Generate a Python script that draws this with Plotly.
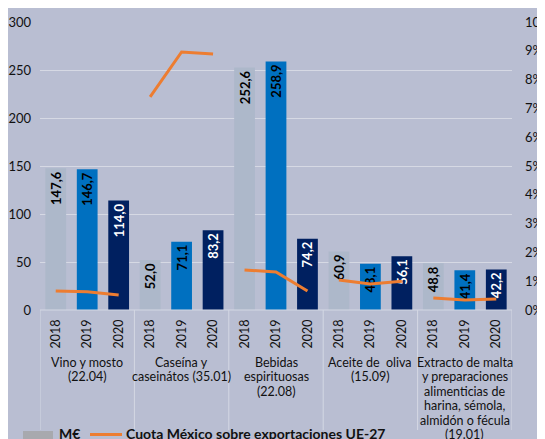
import plotly.graph_objects as go

categories = [
    ["Vino y mosto", "(22.04)"],
    ["Caseína y", "caseinátos (35.01)"],
    ["Bebidas", "espirituosas", "(22.08)"],
    ["Aceite de  oliva", "(15.09)"],
    ["Extracto de malta", "y preparaciones", "alimenticias de", "harina, sémola,", "almidón o fécula", "(19.01)"],
]
years = ["2018", "2019", "2020"]
values_2018 = [147.6, 52.0, 252.6, 60.9, 48.8]
values_2019 = [146.7, 71.1, 258.9, 48.1, 41.4]
values_2020 = [114.0, 83.2, 74.2, 56.1, 42.2]
cuota = [  # % share per category, years 2018-2020
    [0.66, 0.63, 0.52],
    [7.4, 8.96, 8.89],
    [1.39, 1.32, 0.66],
    [1.04, 0.90, 1.00],
    [0.42, 0.35, 0.38],
]
left_ticks = [0, 50, 100, 150, 200, 250, 300]
legend_bar_name = "M€"
legend_line_name = "Cuota México sobre exportaciones UE-27"

bg = "#B9BED2"
font_family = "Lato, 'Open Sans', sans-serif"
colors = ["#ADB8CA", "#0070C0", "#002060"]
label_colors = ["black", "black", "white"]
n = len(categories)

# the page body has an 8px margin, so the figure is sized to fill the window exactly
W, H = 537, 431
L, R, T, B = 32, 33, 14, 129
PW, PH = W - L - R, H - T - B
PLOT_LEFT_PAGE, PLOT_BOTTOM_PAGE = 40, 310

def px_x(px):
    return (px - PLOT_LEFT_PAGE) / PW

def px_y(py):
    return (PLOT_BOTTOM_PAGE - py) / PH

def fmt(v):
    return f"{v:.1f}".replace(".", ",")

fig = go.Figure()
series = [values_2018, values_2019, values_2020]
for yi, vals in enumerate(series):
    xs = [ci * 3 + yi for ci in range(n)]
    fig.add_trace(go.Bar(
        x=xs, y=vals, width=0.66,
        marker=dict(color=colors[yi], line=dict(width=0)),
        text=[fmt(v) for v in vals], textposition="inside",
        insidetextanchor="end", textangle=-90,
        textfont=dict(family=font_family, size=13, color=label_colors[yi], weight="bold"),
        showlegend=False, cliponaxis=False,
    ))

lx, ly = [], []
for ci in range(n):
    for yi in range(3):
        lx.append(ci * 3 + yi)
        ly.append(cuota[ci][yi] / 100)
    lx.append(None)
    ly.append(None)
fig.add_trace(go.Scatter(
    x=lx, y=ly, yaxis="y2", mode="lines", connectgaps=False,
    line=dict(color="#ED7D31", width=3),
    name=legend_line_name, showlegend=False,
))

divider = "#D4D8E4"
shapes = []
for b in range(n + 1):
    shapes.append(dict(type="line", xref="x", yref="paper", x0=b * 3 - 0.5, x1=b * 3 - 0.5,
                       y0=0, y1=px_y(430), line=dict(color=divider, width=1)))
shapes.append(dict(type="line", xref="paper", yref="paper", x0=0, x1=1, y0=0, y1=0,
                   line=dict(color=divider, width=1)))
# manual legend (cut off at bottom as in the reference)
shapes.append(dict(type="rect", xref="paper", yref="paper", x0=px_x(23), x1=px_x(53),
                   y0=px_y(445), y1=px_y(431), fillcolor="#A8A9AE", line=dict(width=0)))
shapes.append(dict(type="line", xref="paper", yref="paper", x0=px_x(90), x1=px_x(122),
                   y0=px_y(434.5), y1=px_y(434.5), line=dict(color="#ED7D31", width=3)))

annotations = []
line_h = 14.5 / PH
for ci, lines in enumerate(categories):
    for li, t in enumerate(lines):
        annotations.append(dict(
            x=ci * 3 + 1, xref="x", y=px_y(362) - li * line_h, yref="paper",
            text=t, showarrow=False, yanchor="middle", xanchor="center",
            font=dict(family=font_family, size=12.5, color="#111111"),
        ))
annotations.append(dict(x=px_x(57), y=px_y(433), xref="paper", yref="paper", text=legend_bar_name,
                        showarrow=False, xanchor="left", yanchor="middle",
                        font=dict(family=font_family, size=14, weight="bold", color="#111111")))
annotations.append(dict(x=px_x(124), y=px_y(433), xref="paper", yref="paper", text=legend_line_name,
                        showarrow=False, xanchor="left", yanchor="middle",
                        font=dict(family=font_family, size=14, weight="bold", color="#111111")))

fig.update_layout(
    width=W, height=H,
    margin=dict(l=L, r=R, t=T, b=B, autoexpand=False),
    paper_bgcolor=bg, plot_bgcolor=bg,
    barmode="overlay",
    showlegend=False,
    uniformtext=dict(minsize=13, mode="show"),
    font=dict(family=font_family, color="#111111"),
    xaxis=dict(
        range=[-0.5, 3 * n - 0.5],
        tickmode="array",
        tickvals=list(range(3 * n)),
        ticktext=years * n,
        tickangle=-90,
        tickfont=dict(size=12.5, color="#111111"),
        showgrid=False, zeroline=False, showline=False, ticks="",
        ticklabelstandoff=6, automargin=False,
    ),
    yaxis=dict(
        range=[0, 300], tickvals=left_ticks,
        showgrid=True, gridcolor="#D6D9E4", gridwidth=1,
        zeroline=False, tickfont=dict(size=13), ticks="",
        ticklabelstandoff=8, automargin=False,
    ),
    yaxis2=dict(
        overlaying="y", side="right", range=[0, 0.10],
        tickvals=[i / 100 for i in range(11)], tickformat=".0%",
        showgrid=False, zeroline=False, tickfont=dict(size=13), ticks="",
        ticklabelstandoff=12, automargin=False,
    ),
    shapes=shapes, annotations=annotations,
)

fig.write_html("out.html")
